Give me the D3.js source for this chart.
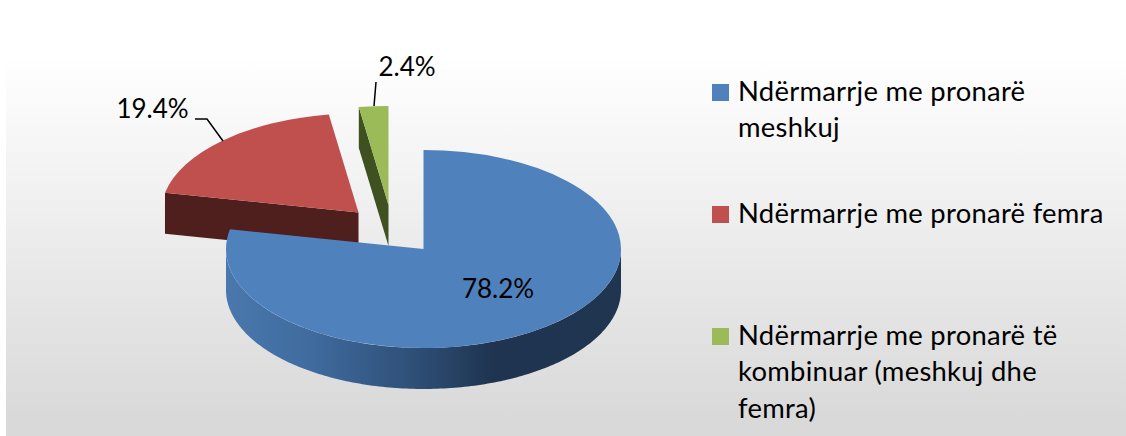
<!DOCTYPE html>
<html><head><meta charset="utf-8">
<script src="https://cdn.jsdelivr.net/npm/d3@7"></script>
<style>html,body{margin:0;padding:0;background:#fff}svg{display:block}text{font-family:Lato,"Open Sans",sans-serif;fill:#000}</style>
</head><body><svg id="c" width="1126" height="436"></svg>
<script>
const categories = ["Ndërmarrje me pronarë meshkuj","Ndërmarrje me pronarë femra","Ndërmarrje me pronarë të kombinuar (meshkuj dhe femra)"];
const values = [78.2,19.4,2.4];
const valueLabels = ["78.2%","19.4%","2.4%"];
const colors = ["#4f81bd","#c0504d","#9bbb59"];
const wallColors = ["#1f3550","#4e1f1d","#3f5021"];
const legendLines = [["Ndërmarrje me pronarë","meshkuj"],["Ndërmarrje me pronarë femra"],["Ndërmarrje me pronarë të","kombinuar (meshkuj dhe","femra)"]];
const centers = [[423.5,249],[358.5,212.5],[388.5,205]];
const labelPos = [[498,298],[152.5,118],[407,75.5]];
const leaders = [null,[[195,119],[207,119],[223,141]],[[376,82],[374,106]]];

const W=1126,H=436,rx=197.5,ry=99,depth=41;
const svg=d3.select("#c");
const defs=svg.append("defs");
const bg=defs.append("linearGradient").attr("id","bg").attr("x1",0).attr("x2",0).attr("y1",0).attr("y2",1);
bg.append("stop").attr("offset","13%").attr("stop-color","#ffffff");
bg.append("stop").attr("offset","96%").attr("stop-color","#d9d9d9");
const wg=defs.append("linearGradient").attr("id","wall").attr("gradientUnits","userSpaceOnUse").attr("x1",226).attr("x2",621).attr("y1",0).attr("y2",0);
[[0,"#4a78ad"],[0.22,"#3f6b9e"],[0.5,"#2d4c73"],[0.68,"#1e3450"],[1,"#1f3550"]].forEach(s=>wg.append("stop").attr("offset",s[0]).attr("stop-color",s[1]));

svg.append("rect").attr("x",6).attr("y",0).attr("width",W-6).attr("height",H).attr("fill","url(#bg)");

const pie=d3.pie().sort(null)(values);
const arc=d3.arc().innerRadius(0).outerRadius(rx);
const px=(i,a)=>centers[i][0]+rx*Math.sin(a), py=(i,a)=>centers[i][1]-ry*Math.cos(a);
const line=d3.line();

// side walls (drawn back to front)
const wallPoly=(i,a)=>[[centers[i][0],centers[i][1]],[px(i,a),py(i,a)],[px(i,a),py(i,a)+depth],[centers[i][0],centers[i][1]+depth]];
svg.append("path").attr("d",line(wallPoly(2,pie[2].startAngle))+"Z").attr("fill",wallColors[2]);
svg.append("path").attr("d",line(wallPoly(1,pie[1].startAngle))+"Z").attr("fill",wallColors[1]);
// slices 1, 2 top faces
[1,2].forEach(i=>{
  svg.append("path").attr("d",arc(pie[i])).attr("fill",colors[i])
    .attr("transform",`translate(${centers[i][0]},${centers[i][1]}) scale(1,${ry/rx})`);
});
// blue outer wall: 90deg to 270deg
const angs=d3.range(90,270.5,1).map(d=>d*Math.PI/180);
const topE=angs.map(a=>[px(0,a),py(0,a)]);
const botE=angs.map(a=>[px(0,a),py(0,a)+depth]).reverse();
svg.append("path").attr("d",line(topE.concat(botE))+"Z").attr("fill","url(#wall)");
svg.append("path").attr("d",arc(pie[0])).attr("fill",colors[0])
  .attr("transform",`translate(${centers[0][0]},${centers[0][1]}) scale(1,${ry/rx})`);

// leaders
leaders.forEach(l=>{ if(l) svg.append("path").attr("d",line(l)).attr("fill","none").attr("stroke","#000").attr("stroke-width",1.5); });
// value labels
valueLabels.forEach((t,i)=>{
  svg.append("text").attr("x",labelPos[i][0]).attr("y",labelPos[i][1]).attr("text-anchor","middle")
    .attr("font-size",26).text(t);
});
// legend
const ly=[100.5,222.5,345], lh=36.3;
categories.forEach((c,i)=>{
  svg.append("rect").attr("x",712).attr("y",[84,206,328][i]).attr("width",17).attr("height",17).attr("fill",colors[i]);
  const t=svg.append("text").attr("font-size",27.4).attr("letter-spacing",0.28).attr("aria-label",c);
  legendLines[i].forEach((s,j)=>t.append("tspan").attr("x",738).attr("y",ly[i]+j*lh).text(s));
});
</script></body></html>
